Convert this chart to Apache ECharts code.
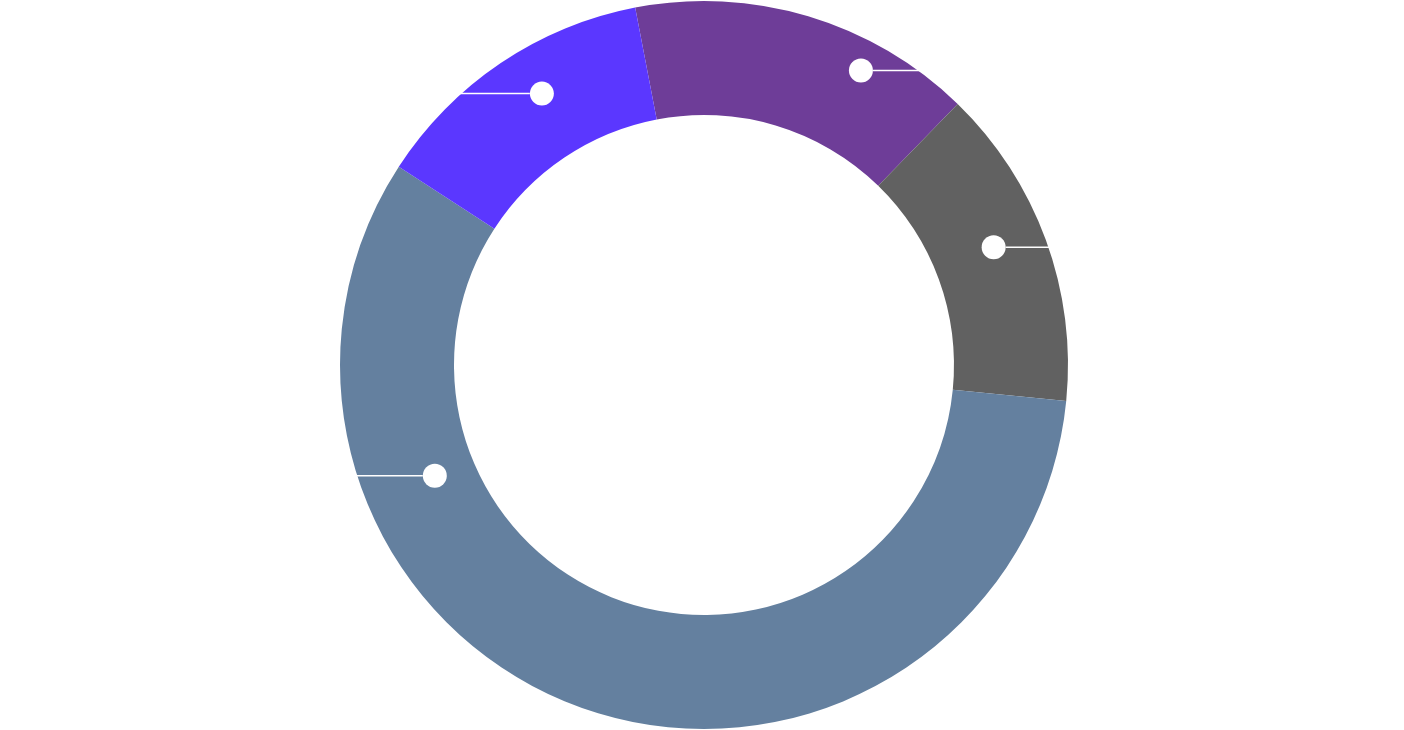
<!DOCTYPE html>
<html><head><meta charset="utf-8">
<style>html,body{margin:0;padding:0;background:#fff}#c{width:1404px;height:730px}</style>
<script src="https://cdn.jsdelivr.net/npm/echarts@6/dist/echarts.min.js"></script>
</head><body><div id="c"></div>
<script>
// ---- data ----
const categories = ['A', 'B', 'C', 'D'];
const values = [15.3, 14.3, 57.6, 12.8];
const colors = ['#6e3d98', '#616161', '#64809f', '#5b37ff'];
// marker placement (style): fraction along each slice's angle, fraction across ring thickness
const markerAlong = [0.707, 0.46, 0.733, 0.567];
const markerAcross = [0.735, 0.55, 0.36, 0.58];

const CX = 704, CY = 365, R0 = 250, R1 = 364, START = 100.9;
const total = values.reduce((a, b) => a + b, 0);
const cum = []; let acc = 0; values.forEach(v => { cum.push(acc); acc += v; });
function markerPos(i) {
  const a0 = cum[i] / total * 360, span = values[i] / total * 360;
  const ang = ((90 - START) + a0 + span * markerAlong[i]) * Math.PI / 180;
  const r = R0 + (R1 - R0) * markerAcross[i];
  return { x: CX + r * Math.sin(ang), y: CY - r * Math.cos(ang) };
}

const chart = echarts.init(document.getElementById('c'), null, { renderer: 'canvas' });
chart.setOption({
  animation: false,
  backgroundColor: '#fff',
  color: colors,
  series: [{
    type: 'pie',
    center: [CX, CY],
    radius: [R0, R1],
    startAngle: START,
    clockwise: true,
    avoidLabelOverlap: false,
    emphasis: { disabled: true },
    itemStyle: { borderWidth: 0 },
    data: categories.map((c, i) => ({ name: c, value: values[i] })),
    label: {
      show: true,
      position: 'inside',
      formatter: p => markerPos(p.dataIndex).x >= CX ? '{dot|}{line|}' : '{line|}{dot|}',
      rich: {
        dot: { width: 24, height: 24, borderRadius: 12, backgroundColor: '#ffffff', verticalAlign: 'middle' },
        line: { width: 170, height: 1.5, backgroundColor: '#ffffff', verticalAlign: 'middle' }
      }
    },
    labelLine: { show: false },
    labelLayout: params => {
      const p = markerPos(params.dataIndex);
      const right = p.x >= CX;
      return { x: right ? p.x - 12 : p.x + 12, y: p.y, align: right ? 'left' : 'right', verticalAlign: 'middle' };
    }
  }]
});
</script></body></html>
